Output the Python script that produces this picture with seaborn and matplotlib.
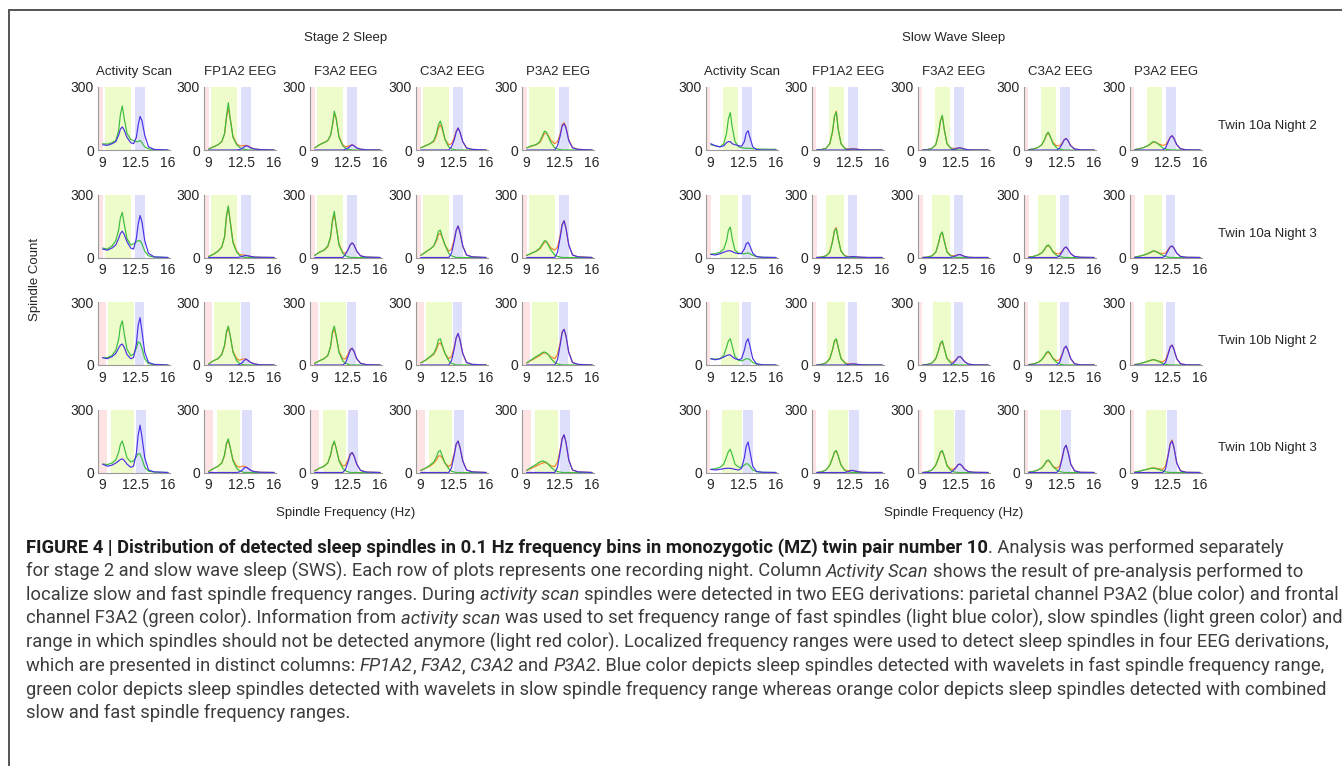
import matplotlib
matplotlib.use("Agg")
import matplotlib.pyplot as plt
from matplotlib.lines import Line2D
import seaborn as sns

FREQ = [9.0, 9.5, 10.0, 10.4, 10.7, 10.9, 11.1, 11.3, 11.6, 12.0,
        12.3, 12.6, 12.8, 13.0, 13.2, 13.5, 13.9, 14.5, 16.0]

COLUMNS = ["Activity Scan", "FP1A2 EEG", "F3A2 EEG", "C3A2 EEG", "P3A2 EEG"]
ROW_LABELS = ["Twin 10a Night 2", "Twin 10a Night 3", "Twin 10b Night 2", "Twin 10b Night 3"]

# ---- Stage 2 sleep (4 rows each) ----
S2_ACT_GREEN = [[30, 28, 35, 45, 90, 170, 210, 150, 80, 50, 45, 40, 40, 45, 35, 15, 5, 2, 0],
                [45, 40, 55, 80, 130, 190, 215, 160, 90, 60, 65, 75, 80, 80, 65, 30, 8, 2, 0],
                [35, 35, 45, 70, 120, 185, 210, 150, 75, 45, 50, 80, 110, 105, 80, 30, 6, 2, 0],
                [40, 38, 45, 60, 95, 135, 150, 120, 70, 50, 55, 75, 90, 88, 65, 25, 6, 2, 0]]
S2_ACT_BLUE = [[25, 22, 30, 40, 70, 100, 110, 95, 60, 35, 30, 60, 120, 160, 140, 70, 15, 3, 0],
               [40, 35, 45, 60, 90, 115, 125, 110, 75, 45, 40, 90, 160, 200, 170, 80, 20, 3, 0],
               [35, 30, 40, 55, 80, 95, 100, 85, 50, 30, 35, 100, 190, 225, 160, 60, 12, 3, 0],
               [40, 30, 35, 45, 55, 62, 65, 58, 40, 25, 30, 90, 180, 225, 170, 70, 12, 3, 0]]

S2_FP1_GREEN = [[5, 15, 25, 40, 80, 160, 225, 150, 60, 25, 12, 5, 3, 2, 0, 0, 0, 0, 0],
                [5, 15, 30, 50, 100, 200, 245, 170, 70, 25, 10, 4, 2, 0, 0, 0, 0, 0, 0],
                [5, 20, 30, 50, 95, 160, 185, 140, 60, 20, 8, 3, 0, 0, 0, 0, 0, 0, 0],
                [5, 18, 30, 45, 85, 140, 160, 120, 55, 20, 8, 3, 0, 0, 0, 0, 0, 0, 0]]
S2_FP1_ORANGE = [[5, 15, 25, 40, 75, 150, 200, 150, 65, 30, 20, 20, 22, 22, 20, 12, 5, 2, 0],
                 [5, 15, 30, 50, 95, 190, 240, 175, 75, 30, 15, 12, 12, 10, 8, 5, 2, 1, 0],
                 [5, 20, 30, 50, 90, 150, 180, 140, 65, 30, 22, 28, 30, 28, 22, 12, 5, 1, 0],
                 [5, 18, 30, 45, 80, 135, 150, 120, 60, 30, 25, 30, 30, 26, 20, 10, 4, 1, 0]]
S2_FP1_BLUE = [[0, 0, 0, 0, 0, 0, 0, 0, 0, 0, 2, 8, 15, 20, 18, 10, 5, 2, 0],
               [0, 0, 0, 0, 0, 0, 0, 0, 0, 0, 2, 5, 8, 10, 8, 5, 2, 1, 0],
               [0, 0, 0, 0, 0, 0, 0, 0, 0, 0, 3, 12, 22, 28, 22, 12, 5, 1, 0],
               [0, 0, 0, 0, 0, 0, 0, 0, 0, 0, 3, 12, 22, 25, 20, 10, 4, 1, 0]]

S2_F3_GREEN = [[10, 25, 35, 45, 70, 120, 185, 150, 60, 20, 8, 3, 2, 0, 0, 0, 0, 0, 0],
               [10, 25, 35, 55, 100, 180, 220, 150, 60, 20, 8, 3, 0, 0, 0, 0, 0, 0, 0],
               [8, 20, 30, 45, 90, 160, 185, 140, 60, 20, 8, 3, 0, 0, 0, 0, 0, 0, 0],
               [8, 20, 30, 45, 85, 130, 150, 115, 55, 20, 8, 3, 0, 0, 0, 0, 0, 0, 0]]
S2_F3_ORANGE = [[10, 25, 35, 45, 70, 115, 175, 150, 65, 25, 15, 18, 22, 25, 20, 10, 4, 1, 0],
                [10, 25, 35, 50, 95, 170, 205, 150, 65, 25, 20, 40, 60, 70, 60, 30, 8, 2, 0],
                [8, 20, 30, 45, 85, 150, 170, 135, 65, 30, 30, 55, 75, 80, 65, 30, 8, 2, 0],
                [8, 20, 30, 45, 80, 125, 145, 115, 60, 30, 35, 65, 90, 95, 80, 40, 10, 2, 0]]
S2_F3_BLUE = [[0, 0, 0, 0, 0, 0, 0, 0, 0, 0, 3, 10, 18, 25, 20, 10, 4, 1, 0],
              [0, 0, 0, 0, 0, 0, 0, 0, 0, 0, 15, 40, 60, 70, 60, 30, 8, 2, 0],
              [0, 0, 0, 0, 0, 0, 0, 0, 0, 0, 10, 45, 70, 80, 65, 30, 8, 2, 0],
              [0, 0, 0, 0, 0, 0, 0, 0, 0, 0, 15, 55, 85, 95, 80, 40, 10, 2, 0]]

S2_C3_GREEN = [[10, 20, 30, 45, 80, 120, 138, 110, 50, 15, 5, 2, 0, 0, 0, 0, 0, 0, 0],
               [10, 25, 40, 55, 90, 125, 130, 100, 60, 20, 8, 3, 0, 0, 0, 0, 0, 0, 0],
               [10, 22, 40, 55, 85, 120, 125, 95, 55, 20, 8, 3, 0, 0, 0, 0, 0, 0, 0],
               [10, 20, 35, 50, 75, 100, 105, 80, 45, 18, 6, 2, 0, 0, 0, 0, 0, 0, 0]]
S2_C3_ORANGE = [[10, 20, 30, 40, 70, 105, 120, 100, 50, 25, 30, 60, 90, 105, 85, 40, 10, 3, 0],
                [10, 25, 40, 55, 80, 110, 115, 95, 60, 30, 40, 90, 130, 150, 120, 55, 12, 3, 0],
                [10, 22, 38, 50, 75, 100, 105, 90, 55, 30, 40, 90, 130, 150, 120, 55, 12, 3, 0],
                [10, 20, 30, 45, 60, 78, 80, 70, 45, 28, 40, 95, 135, 150, 120, 55, 12, 3, 0]]
S2_C3_BLUE = [[0, 0, 0, 0, 0, 0, 0, 0, 0, 0, 15, 50, 85, 105, 85, 40, 10, 3, 0],
              [0, 0, 0, 0, 0, 0, 0, 0, 0, 0, 20, 80, 130, 150, 120, 55, 12, 3, 0],
              [0, 0, 0, 0, 0, 0, 0, 0, 0, 0, 20, 80, 130, 150, 120, 55, 12, 3, 0],
              [0, 0, 0, 0, 0, 0, 0, 0, 0, 0, 22, 85, 135, 150, 120, 55, 12, 3, 0]]

S2_P3_GREEN = [[10, 20, 25, 40, 70, 90, 85, 65, 35, 10, 5, 2, 0, 0, 0, 0, 0, 0, 0],
               [10, 20, 30, 45, 65, 80, 78, 60, 35, 12, 5, 2, 0, 0, 0, 0, 0, 0, 0],
               [10, 25, 40, 50, 60, 62, 58, 50, 30, 12, 5, 2, 0, 0, 0, 0, 0, 0, 0],
               [10, 25, 38, 50, 55, 52, 48, 40, 25, 10, 4, 2, 0, 0, 0, 0, 0, 0, 0]]
S2_P3_ORANGE = [[10, 18, 25, 35, 60, 80, 80, 70, 45, 30, 40, 80, 120, 130, 110, 50, 12, 3, 0],
                [10, 20, 30, 40, 60, 72, 75, 65, 45, 35, 50, 110, 160, 175, 140, 60, 12, 3, 0],
                [10, 22, 35, 45, 55, 58, 55, 50, 38, 30, 50, 110, 160, 170, 140, 60, 12, 3, 0],
                [10, 20, 30, 40, 45, 48, 45, 40, 32, 28, 50, 115, 165, 178, 145, 60, 12, 3, 0]]
S2_P3_BLUE = [[0, 0, 0, 0, 0, 0, 0, 0, 0, 0, 20, 70, 115, 125, 105, 45, 10, 3, 0],
              [0, 0, 0, 0, 0, 0, 0, 0, 0, 0, 25, 100, 155, 175, 140, 60, 12, 3, 0],
              [0, 0, 0, 0, 0, 0, 0, 0, 0, 0, 25, 100, 155, 170, 140, 60, 12, 3, 0],
              [0, 0, 0, 0, 0, 0, 0, 0, 0, 0, 25, 105, 160, 180, 145, 60, 12, 3, 0]]

# ---- Slow wave sleep ----
SW_ACT_GREEN = [[25, 20, 15, 30, 80, 150, 178, 110, 40, 15, 10, 10, 8, 8, 8, 6, 5, 4, 3],
                [16, 18, 25, 40, 80, 130, 145, 90, 35, 20, 18, 18, 20, 22, 18, 10, 4, 1, 0],
                [30, 28, 30, 45, 85, 115, 125, 90, 40, 22, 20, 25, 30, 30, 25, 12, 4, 1, 0],
                [15, 18, 25, 40, 75, 100, 110, 85, 40, 25, 25, 35, 42, 40, 30, 12, 4, 1, 0]]
SW_ACT_BLUE = [[30, 20, 15, 20, 35, 40, 40, 30, 25, 20, 18, 40, 80, 92, 60, 15, 2, 0, 0],
               [15, 12, 18, 25, 30, 32, 32, 28, 22, 18, 20, 40, 65, 72, 55, 20, 5, 1, 0],
               [30, 25, 30, 38, 45, 48, 48, 40, 30, 25, 30, 70, 110, 125, 90, 30, 6, 1, 0],
               [15, 12, 15, 18, 20, 20, 20, 18, 15, 12, 20, 70, 125, 145, 100, 30, 5, 1, 0]]

SW_FP1_GREEN = [[0, 2, 8, 30, 90, 160, 180, 100, 30, 8, 3, 2, 0, 0, 0, 0, 0, 0, 0],
                [0, 2, 8, 25, 75, 125, 138, 90, 30, 8, 3, 1, 0, 0, 0, 0, 0, 0, 0],
                [0, 3, 10, 30, 75, 115, 125, 85, 30, 10, 3, 1, 0, 0, 0, 0, 0, 0, 0],
                [0, 3, 12, 35, 70, 98, 105, 80, 35, 10, 3, 1, 0, 0, 0, 0, 0, 0, 0]]
SW_FP1_ORANGE = [[0, 2, 8, 30, 85, 160, 185, 100, 30, 10, 5, 5, 6, 6, 5, 3, 1, 0, 0],
                 [0, 2, 8, 25, 80, 130, 142, 90, 30, 10, 5, 4, 4, 4, 3, 2, 1, 0, 0],
                 [0, 3, 10, 30, 72, 112, 122, 85, 32, 12, 6, 5, 5, 5, 4, 2, 1, 0, 0],
                 [0, 3, 12, 35, 68, 95, 102, 80, 36, 12, 8, 10, 10, 8, 6, 3, 1, 0, 0]]
SW_FP1_BLUE = [[0, 0, 0, 0, 0, 0, 0, 0, 0, 0, 2, 4, 5, 5, 4, 2, 1, 0, 0],
               [0, 0, 0, 0, 0, 0, 0, 0, 0, 0, 1, 3, 4, 4, 3, 2, 1, 0, 0],
               [0, 0, 0, 0, 0, 0, 0, 0, 0, 0, 2, 4, 5, 5, 4, 2, 1, 0, 0],
               [0, 0, 0, 0, 0, 0, 0, 0, 0, 0, 3, 8, 10, 8, 6, 3, 1, 0, 0]]

SW_F3_GREEN = [[0, 2, 8, 25, 80, 140, 165, 100, 30, 8, 3, 1, 0, 0, 0, 0, 0, 0, 0],
               [0, 2, 8, 25, 70, 110, 122, 80, 25, 8, 3, 1, 0, 0, 0, 0, 0, 0, 0],
               [0, 3, 10, 30, 70, 105, 115, 80, 30, 10, 3, 1, 0, 0, 0, 0, 0, 0, 0],
               [0, 3, 12, 35, 70, 98, 105, 78, 32, 10, 3, 1, 0, 0, 0, 0, 0, 0, 0]]
SW_F3_ORANGE = [[0, 2, 8, 25, 75, 140, 160, 100, 30, 10, 8, 8, 10, 10, 8, 4, 1, 0, 0],
                [0, 2, 8, 25, 68, 108, 118, 80, 28, 10, 8, 10, 14, 14, 10, 5, 1, 0, 0],
                [0, 3, 10, 30, 68, 100, 110, 80, 32, 14, 15, 28, 38, 40, 32, 15, 4, 1, 0],
                [0, 3, 12, 35, 68, 95, 100, 78, 35, 15, 15, 28, 38, 40, 32, 15, 4, 1, 0]]
SW_F3_BLUE = [[0, 0, 0, 0, 0, 0, 0, 0, 0, 0, 3, 6, 10, 10, 8, 4, 1, 0, 0],
              [0, 0, 0, 0, 0, 0, 0, 0, 0, 0, 4, 9, 13, 14, 10, 5, 1, 0, 0],
              [0, 0, 0, 0, 0, 0, 0, 0, 0, 0, 10, 25, 38, 40, 32, 15, 4, 1, 0],
              [0, 0, 0, 0, 0, 0, 0, 0, 0, 0, 10, 25, 38, 40, 32, 15, 4, 1, 0]]

SW_C3_GREEN = [[2, 5, 12, 25, 50, 75, 85, 65, 30, 10, 4, 2, 0, 0, 0, 0, 0, 0, 0],
               [2, 5, 12, 22, 40, 55, 60, 50, 25, 10, 4, 2, 0, 0, 0, 0, 0, 0, 0],
               [2, 5, 12, 25, 45, 60, 65, 55, 30, 12, 4, 2, 0, 0, 0, 0, 0, 0, 0],
               [2, 5, 12, 22, 40, 55, 60, 50, 28, 12, 4, 2, 0, 0, 0, 0, 0, 0, 0]]
SW_C3_ORANGE = [[2, 5, 12, 25, 48, 70, 80, 65, 35, 20, 20, 35, 50, 55, 45, 20, 5, 1, 0],
                [2, 5, 12, 22, 38, 52, 56, 48, 28, 18, 18, 32, 45, 50, 40, 18, 5, 1, 0],
                [2, 5, 12, 25, 42, 56, 60, 52, 32, 20, 25, 55, 80, 90, 70, 30, 6, 1, 0],
                [2, 5, 12, 22, 38, 52, 55, 48, 30, 20, 30, 75, 115, 130, 100, 40, 8, 1, 0]]
SW_C3_BLUE = [[0, 0, 0, 0, 0, 0, 0, 0, 0, 0, 8, 30, 48, 55, 45, 20, 5, 1, 0],
              [0, 0, 0, 0, 0, 0, 0, 0, 0, 0, 8, 28, 44, 50, 40, 18, 5, 1, 0],
              [0, 0, 0, 0, 0, 0, 0, 0, 0, 0, 12, 50, 80, 90, 70, 30, 6, 1, 0],
              [0, 0, 0, 0, 0, 0, 0, 0, 0, 0, 15, 70, 115, 130, 100, 40, 8, 1, 0]]

SW_P3_GREEN = [[2, 6, 12, 20, 30, 38, 40, 35, 25, 10, 4, 2, 0, 0, 0, 0, 0, 0, 0],
               [2, 6, 12, 18, 25, 30, 32, 28, 20, 10, 4, 2, 0, 0, 0, 0, 0, 0, 0],
               [2, 6, 12, 18, 22, 25, 25, 22, 16, 8, 3, 1, 0, 0, 0, 0, 0, 0, 0],
               [2, 6, 12, 16, 20, 20, 20, 18, 14, 8, 3, 1, 0, 0, 0, 0, 0, 0, 0]]
SW_P3_ORANGE = [[2, 6, 12, 20, 28, 35, 38, 35, 28, 22, 25, 45, 62, 68, 55, 25, 6, 1, 0],
                [2, 6, 12, 18, 24, 28, 30, 28, 22, 18, 22, 40, 52, 55, 45, 20, 5, 1, 0],
                [2, 6, 12, 18, 22, 25, 25, 22, 18, 15, 25, 60, 88, 95, 75, 30, 6, 1, 0],
                [2, 6, 12, 16, 20, 22, 22, 20, 18, 15, 30, 90, 140, 155, 120, 45, 8, 1, 0]]
SW_P3_BLUE = [[0, 0, 0, 0, 0, 0, 0, 0, 0, 0, 10, 40, 60, 68, 55, 25, 6, 1, 0],
              [0, 0, 0, 0, 0, 0, 0, 0, 0, 0, 10, 35, 50, 55, 45, 20, 5, 1, 0],
              [0, 0, 0, 0, 0, 0, 0, 0, 0, 0, 12, 55, 85, 95, 75, 30, 6, 1, 0],
              [0, 0, 0, 0, 0, 0, 0, 0, 0, 0, 15, 85, 135, 150, 120, 45, 8, 1, 0]]

# frequency bands per row: excluded (red), slow (green), fast (blue)
S2_RED = [(8.5, 9.0), (8.5, 9.0), (8.5, 9.4), (8.5, 9.5)]
S2_SLOW = [(9.25, 12.0), (9.3, 12.05), (9.6, 12.3), (9.85, 12.35)]
S2_FAST = [(12.5, 13.5), (12.5, 13.5), (12.5, 13.45), (12.6, 13.6)]
SW_RED = [(8.5, 8.95), (8.5, 9.05), (8.5, 8.95), (8.5, 8.95)]
SW_SLOW = [(10.3, 11.95), (10.05, 11.95), (10.1, 12.0), (10.25, 12.4)]
SW_FAST = [(12.35, 13.4), (12.35, 13.35), (12.35, 13.35), (12.5, 13.5)]

CAPTION = [
    [("FIGURE 4 | Distribution of detected sleep spindles in 0.1 Hz frequency bins in monozygotic (MZ) twin pair number 10", "b"),
     (". Analysis was performed separately", "n")],
    [("for stage 2 and slow wave sleep (SWS). Each row of plots represents one recording night. Column ", "n"),
     ("Activity Scan", "i"), (" shows the result of pre-analysis performed to", "n")],
    [("localize slow and fast spindle frequency ranges. During ", "n"), ("activity scan", "i"),
     (" spindles were detected in two EEG derivations: parietal channel P3A2 (blue color) and frontal", "n")],
    [("channel F3A2 (green color). Information from ", "n"), ("activity scan", "i"),
     (" was used to set frequency range of fast spindles (light blue color), slow spindles (light green color) and", "n")],
    [("range in which spindles should not be detected anymore (light red color). Localized frequency ranges were used to detect sleep spindles in four EEG derivations,", "n")],
    [("which are presented in distinct columns: ", "n"), ("FP1A2", "i"), (", ", "n"), ("F3A2", "i"), (", ", "n"),
     ("C3A2", "i"), (" and ", "n"), ("P3A2", "i"),
     (". Blue color depicts sleep spindles detected with wavelets in fast spindle frequency range,", "n")],
    [("green color depicts sleep spindles detected with wavelets in slow spindle frequency range whereas orange color depicts sleep spindles detected with combined", "n")],
    [("slow and fast spindle frequency ranges.", "n")],
]

# ---------------------------------------------------------------------------
sns.set_style("white")
plt.rcParams['font.family'] = ['Liberation Sans', 'DejaVu Sans']

W, H = 1342, 766
fig = plt.figure(figsize=(W / 100, H / 100), dpi=100)

C_RED, C_SLOW, C_FAST = "#fde3e3", "#eefbca", "#dedffa"
LINE_COL = {"green": "#38be3c", "orange": "#f5812e", "blue": "#4b30e6"}
FS = 9.5
TICK_FS = 10

stages = [
    ("Stage 2 Sleep", 98, (S2_RED, S2_SLOW, S2_FAST), {
        "Activity Scan": {"green": S2_ACT_GREEN, "blue": S2_ACT_BLUE},
        "FP1A2 EEG": {"green": S2_FP1_GREEN, "orange": S2_FP1_ORANGE, "blue": S2_FP1_BLUE},
        "F3A2 EEG": {"green": S2_F3_GREEN, "orange": S2_F3_ORANGE, "blue": S2_F3_BLUE},
        "C3A2 EEG": {"green": S2_C3_GREEN, "orange": S2_C3_ORANGE, "blue": S2_C3_BLUE},
        "P3A2 EEG": {"green": S2_P3_GREEN, "orange": S2_P3_ORANGE, "blue": S2_P3_BLUE}}),
    ("Slow Wave Sleep", 706, (SW_RED, SW_SLOW, SW_FAST), {
        "Activity Scan": {"green": SW_ACT_GREEN, "blue": SW_ACT_BLUE},
        "FP1A2 EEG": {"green": SW_FP1_GREEN, "orange": SW_FP1_ORANGE, "blue": SW_FP1_BLUE},
        "F3A2 EEG": {"green": SW_F3_GREEN, "orange": SW_F3_ORANGE, "blue": SW_F3_BLUE},
        "C3A2 EEG": {"green": SW_C3_GREEN, "orange": SW_C3_ORANGE, "blue": SW_C3_BLUE},
        "P3A2 EEG": {"green": SW_P3_GREEN, "orange": SW_P3_ORANGE, "blue": SW_P3_BLUE}}),
]

AX_W, AX_H, COL_STEP, ROW_STEP, TOP0 = 72, 63, 106, 107.5, 87


def ftext(x, y, s, **kw):
    return fig.text(x / W, 1 - y / H, s, **kw)


for title, x0, (reds, slows, fasts), panels in stages:
    mid = x0 + (4 * COL_STEP + AX_W) / 2
    ftext(mid, 38, title, ha="center", va="center", fontsize=FS)
    ftext(mid, 513, "Spindle Frequency (Hz)", ha="center", va="center", fontsize=FS)
    for c, col in enumerate(COLUMNS):
        left = x0 + c * COL_STEP
        ftext(left + AX_W / 2, 72, col, ha="center", va="center", fontsize=FS)
        for r in range(4):
            top = TOP0 + r * ROW_STEP
            ax = fig.add_axes([left / W, 1 - (top + AX_H) / H, AX_W / W, AX_H / H])
            ax.axvspan(*reds[r], color=C_RED, lw=0)
            ax.axvspan(*slows[r], color=C_SLOW, lw=0)
            ax.axvspan(*fasts[r], color=C_FAST, lw=0)
            for key in ["orange", "green", "blue"]:
                if key in panels[col]:
                    sns.lineplot(x=FREQ, y=panels[col][key][r], ax=ax,
                                 color=LINE_COL[key], linewidth=0.85)
            ax.set_xlim(8.5, 16.2)
            ax.set_ylim(0, 300)
            ax.set_xticks([9, 12.5, 16])
            ax.set_xticklabels(["9", "12.5", "16"])
            ax.set_yticks([0, 300])
            ax.set_xlabel("")
            ax.set_ylabel("")
            ax.tick_params(axis="x", length=0, pad=4, labelsize=TICK_FS)
            ax.tick_params(axis="y", length=0, pad=3, labelsize=TICK_FS)
            for side in ["top", "right"]:
                ax.spines[side].set_visible(False)
            for side in ["left", "bottom"]:
                ax.spines[side].set_color("#9a9a9a")
                ax.spines[side].set_linewidth(0.8)
            ax.set_facecolor("none")

for r, lab in enumerate(ROW_LABELS):
    ftext(1218, TOP0 + r * ROW_STEP + 39, lab, ha="left", va="center", fontsize=FS)

ftext(35, TOP0 + (3 * ROW_STEP + AX_H) / 2, "Spindle Count", rotation=90,
      ha="center", va="center", fontsize=FS)

# frame (top and left rule)
fig.add_artist(Line2D([9 / W, 1], [1 - 10 / H, 1 - 10 / H], transform=fig.transFigure,
                      color="#555555", lw=1.4))
fig.add_artist(Line2D([9 / W, 9 / W], [0, 1 - 10 / H], transform=fig.transFigure,
                      color="#555555", lw=1.4))

# caption with mixed bold / italic runs
renderer = fig.canvas.get_renderer()
CAP_FONT = ["Roboto", "Liberation Sans", "DejaVu Sans"]
CAP_X, CAP_END = 26, 1333


def draw_line(segs, x, y, size):
    probe1 = ftext(0, 0, "x x", fontsize=size, family=CAP_FONT)
    probe2 = ftext(0, 0, "xx", fontsize=size, family=CAP_FONT)
    sp = probe1.get_window_extent(renderer).width - probe2.get_window_extent(renderer).width
    probe1.remove()
    probe2.remove()
    made = []
    for txt, sty in segs:
        lead = len(txt) - len(txt.lstrip(" "))
        trail = len(txt) - len(txt.rstrip(" "))
        x += lead * sp
        t = ftext(x, y, txt.strip(" "), fontsize=size, family=CAP_FONT, ha="left", va="center",
                  fontweight="bold" if sty == "b" else "normal",
                  fontstyle="italic" if sty == "i" else "normal",
                  color="#1c1c1c" if sty == "b" else "#3d3d3d")
        made.append(t)
        x += t.get_window_extent(renderer).width + trail * sp
    return x, made


# pick the largest size at which every caption line fits inside the frame
cap_size = 20.0
for segs in CAPTION:
    end, tmp = draw_line(segs, CAP_X, 548, 12)
    for t in tmp:
        t.remove()
    cap_size = min(cap_size, 12 * (CAP_END - CAP_X) / (end - CAP_X))

for i, segs in enumerate(CAPTION):
    draw_line(segs, CAP_X, 548 + 23.6 * i, cap_size)

fig.savefig("out.png", dpi=100)
